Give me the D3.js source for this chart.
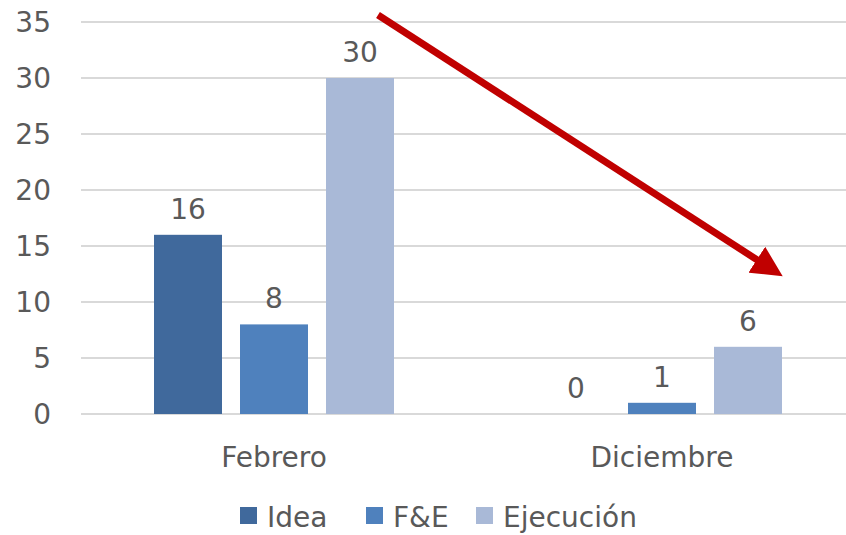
<!DOCTYPE html>
<html>
<head>
<meta charset="utf-8">
<script src="https://cdn.jsdelivr.net/npm/d3@7"></script>
<style>
  body { margin: 0; background: #fff; }
  svg text { font-family: "Century Gothic", "URW Gothic", "DejaVu Sans", sans-serif; fill: #595959; }
</style>
</head>
<body>
<script>
// data
const categories = ["Febrero", "Diciembre"];
const seriesNames = ["Idea", "F&E", "Ejecución"];
const idea = [16, 0];
const fe = [8, 1];
const ejecucion = [30, 6];
const yTicks = [0, 5, 10, 15, 20, 25, 30, 35];
const colors = ["#40699C", "#4F81BD", "#A9B9D7"];

const width = 846;
const height = 535;
const fontSize = 28;

const svg = d3.select("body").append("svg")
  .attr("width", width)
  .attr("height", height);

const y = d3.scaleLinear().domain([0, 35]).range([414, 22]);
const x0 = d3.scaleBand().domain(categories).range([80, 856]);
// 68px bars, 18px gaps inside a 388px category band
const x1 = d3.scaleBand().domain(seriesNames)
  .range([0, x0.bandwidth()])
  .paddingInner(18 / 86)
  .paddingOuter(0.8605);

// gridlines
svg.append("g")
  .selectAll("line")
  .data(yTicks)
  .enter().append("line")
    .attr("x1", 81)
    .attr("x2", width)
    .attr("y1", d => y(d))
    .attr("y2", d => y(d))
    .attr("stroke", "#d9d9d9")
    .attr("stroke-width", 2);

// y tick labels
svg.append("g")
  .selectAll("text")
  .data(yTicks)
  .enter().append("text")
    .attr("x", 51)
    .attr("y", d => y(d))
    .attr("dy", "0.36em")
    .attr("text-anchor", "end")
    .style("font-size", fontSize + "px")
    .text(d => d);

// bars
const rows = categories.map((c, i) => ({
  cat: c,
  values: [idea[i], fe[i], ejecucion[i]].map((v, j) => ({ name: seriesNames[j], value: v, color: colors[j] }))
}));

const groups = svg.append("g")
  .selectAll("g")
  .data(rows)
  .enter().append("g")
    .attr("transform", d => `translate(${x0(d.cat)},0)`);

groups.selectAll("rect")
  .data(d => d.values)
  .enter().append("rect")
    .attr("x", d => x1(d.name))
    .attr("width", x1.bandwidth())
    .attr("y", d => y(d.value))
    .attr("height", d => y(0) - y(d.value))
    .attr("fill", d => d.color);

groups.selectAll("text")
  .data(d => d.values)
  .enter().append("text")
    .attr("x", d => x1(d.name) + x1.bandwidth() / 2)
    .attr("y", d => y(d.value) - 16)
    .attr("text-anchor", "middle")
    .style("font-size", fontSize + "px")
    .text(d => d.value);

// category labels
svg.append("g")
  .selectAll("text")
  .data(categories)
  .enter().append("text")
    .attr("x", d => x0(d) + x0.bandwidth() / 2)
    .attr("y", 467)
    .attr("text-anchor", "middle")
    .style("font-size", fontSize + "px")
    .text(d => d);

// legend
const legendX = [240, 366, 476];
const legend = svg.append("g")
  .selectAll("g")
  .data(seriesNames)
  .enter().append("g")
    .attr("transform", (d, i) => `translate(${legendX[i]},507)`);

legend.append("rect")
  .attr("width", 17)
  .attr("height", 17)
  .attr("fill", (d, i) => colors[i]);

legend.append("text")
  .attr("x", 27)
  .attr("y", 20)
  .style("font-size", fontSize + "px")
  .text(d => d);

// red trend arrow
svg.append("defs").append("marker")
  .attr("id", "head")
  .attr("viewBox", "0 0 10 10")
  .attr("refX", 2)
  .attr("refY", 5)
  .attr("markerWidth", 4.4)
  .attr("markerHeight", 4.4)
  .attr("orient", "auto")
  .append("path")
    .attr("d", "M0,0 L10,5 L0,10 z")
    .attr("fill", "#C00000");

svg.append("line")
  .attr("x1", 378)
  .attr("y1", 15)
  .attr("x2", 762)
  .attr("y2", 263)
  .attr("stroke", "#C00000")
  .attr("stroke-width", 7)
  .attr("marker-end", "url(#head)");
</script>
</body>
</html>
